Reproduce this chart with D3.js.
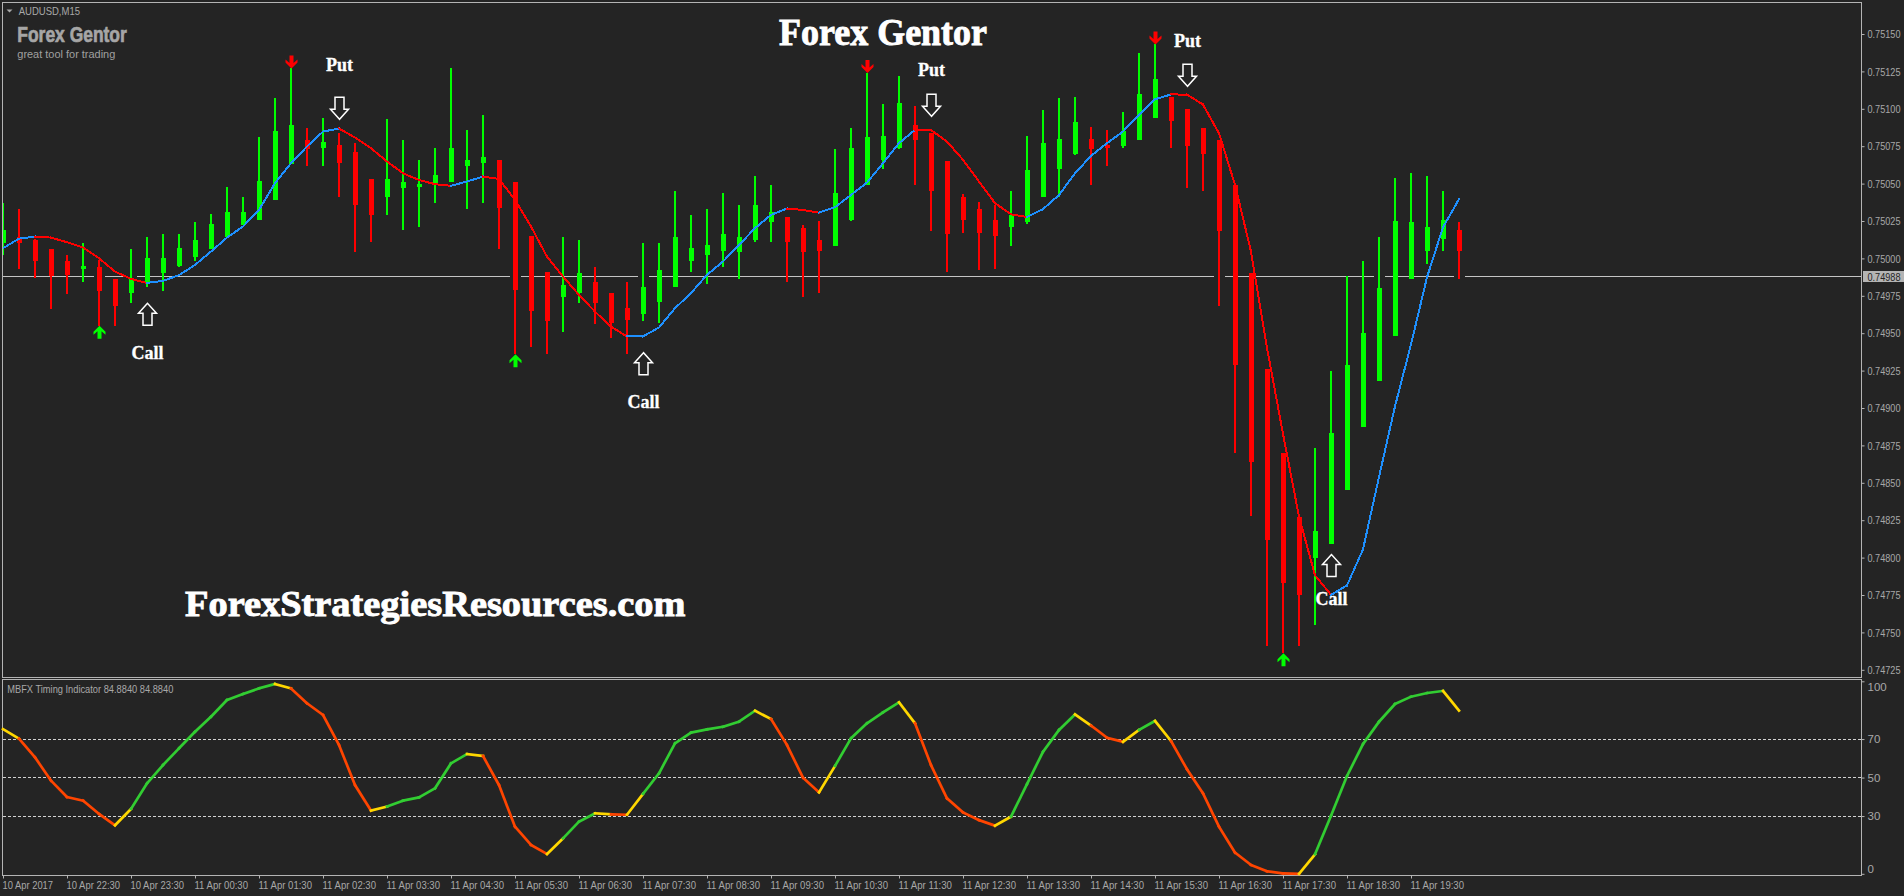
<!DOCTYPE html>
<html>
<head>
<meta charset="utf-8">
<title>Forex Gentor</title>
<script src="https://cdn.jsdelivr.net/npm/d3@7"></script>
<style>
  html, body { margin: 0; padding: 0; background: #242424; overflow: hidden; }
  svg { display: block; }
</style>
</head>
<body>
<div id="chart"></div>
<script>
/* global d3 */

var candleOpen = [
  0.75010, 0.75014, 0.75012, 0.75006, 0.74998, 0.74993, 0.74994, 0.74986, 0.74977, 0.74983,
  0.74990, 0.74995, 0.75001, 0.75006, 0.75014, 0.75022, 0.75026, 0.75039, 0.75063, 0.75079,
  0.75074, 0.75076, 0.75071, 0.75053, 0.75041, 0.75047, 0.75048, 0.75050, 0.75051, 0.75062,
  0.75064, 0.75066, 0.75051, 0.75015, 0.74991, 0.74974, 0.74977, 0.74984, 0.74977, 0.74967,
  0.74963, 0.74971, 0.74981, 0.74998, 0.75002, 0.75005, 0.75004, 0.75012, 0.75024, 0.75028,
  0.75020, 0.75012, 0.75008, 0.75026, 0.75049, 0.75066, 0.75074, 0.75089, 0.75084, 0.75065,
  0.75041, 0.75033, 0.75026, 0.75021, 0.75024, 0.75041, 0.75060, 0.75070, 0.75080, 0.75076,
  0.75075, 0.75079, 0.75094, 0.75108, 0.75100, 0.75087, 0.75079, 0.75049, 0.74990, 0.74926,
  0.74870, 0.74827, 0.74800, 0.74809, 0.74845, 0.74887, 0.74918, 0.74948, 0.74986, 0.75005,
  0.75013, 0.75019
];

var candleHigh = [
  0.75037, 0.75033, 0.75013, 0.75006, 0.75002, 0.75010, 0.74999, 0.74986, 0.75006, 0.75014,
  0.75016, 0.75016, 0.75024, 0.75030, 0.75048, 0.75041, 0.75081, 0.75107, 0.75127, 0.75087,
  0.75094, 0.75084, 0.75077, 0.75053, 0.75093, 0.75079, 0.75066, 0.75074, 0.75127, 0.75086,
  0.75096, 0.75066, 0.75051, 0.75015, 0.74991, 0.75014, 0.75012, 0.74994, 0.74977, 0.74984,
  0.75010, 0.75010, 0.75045, 0.75029, 0.75033, 0.75044, 0.75036, 0.75055, 0.75049, 0.75028,
  0.75022, 0.75025, 0.75073, 0.75087, 0.75124, 0.75103, 0.75122, 0.75102, 0.75084, 0.75065,
  0.75043, 0.75038, 0.75036, 0.75045, 0.75082, 0.75099, 0.75107, 0.75108, 0.75088, 0.75086,
  0.75098, 0.75137, 0.75143, 0.75108, 0.75100, 0.75087, 0.75079, 0.75049, 0.74990, 0.74926,
  0.74870, 0.74827, 0.74873, 0.74925, 0.74988, 0.74998, 0.75014, 0.75054, 0.75057, 0.75055,
  0.75045, 0.75024
];

var candleLow = [
  0.75002, 0.74993, 0.74987, 0.74966, 0.74976, 0.74984, 0.74955, 0.74955, 0.74970, 0.74981,
  0.74978, 0.74994, 0.74998, 0.75006, 0.75014, 0.75022, 0.75026, 0.75039, 0.75063, 0.75062,
  0.75062, 0.75041, 0.75004, 0.75011, 0.75029, 0.75019, 0.75021, 0.75037, 0.75051, 0.75033,
  0.75037, 0.75006, 0.74936, 0.74941, 0.74936, 0.74951, 0.74970, 0.74956, 0.74947, 0.74936,
  0.74958, 0.74957, 0.74981, 0.74991, 0.74983, 0.74994, 0.74986, 0.75011, 0.75011, 0.74984,
  0.74974, 0.74977, 0.75008, 0.75025, 0.75049, 0.75060, 0.75073, 0.75049, 0.75018, 0.74991,
  0.75017, 0.74992, 0.74993, 0.75008, 0.75023, 0.75041, 0.75041, 0.75069, 0.75049, 0.75062,
  0.75074, 0.75079, 0.75094, 0.75074, 0.75047, 0.75045, 0.74968, 0.74870, 0.74828, 0.74741,
  0.74736, 0.74741, 0.74755, 0.74809, 0.74845, 0.74887, 0.74918, 0.74948, 0.74986, 0.74996,
  0.75005, 0.74986
];

var candleClose = [
  0.75019, 0.75010, 0.74998, 0.74988, 0.74989, 0.74995, 0.74978, 0.74968, 0.74986, 0.75000,
  0.75000, 0.75007, 0.75012, 0.75023, 0.75031, 0.75031, 0.75052, 0.75085, 0.75089, 0.75073,
  0.75078, 0.75064, 0.75036, 0.75029, 0.75053, 0.75051, 0.75050, 0.75056, 0.75074, 0.75066,
  0.75068, 0.75034, 0.74979, 0.74965, 0.74958, 0.74982, 0.74990, 0.74970, 0.74957, 0.74959,
  0.74981, 0.74992, 0.75014, 0.75007, 0.75009, 0.75016, 0.75014, 0.75036, 0.75031, 0.75011,
  0.75004, 0.75005, 0.75044, 0.75074, 0.75081, 0.75082, 0.75104, 0.75079, 0.75045, 0.75016,
  0.75026, 0.75017, 0.75015, 0.75029, 0.75059, 0.75077, 0.75080, 0.75091, 0.75073, 0.75074,
  0.75085, 0.75110, 0.75120, 0.75092, 0.75075, 0.75070, 0.75018, 0.74929, 0.74864, 0.74812,
  0.74783, 0.74775, 0.74818, 0.74883, 0.74929, 0.74950, 0.74980, 0.75025, 0.75024, 0.75021,
  0.75026, 0.75005
];

var gentorLine = [
  0.750068, 0.750132, 0.750146, 0.750139, 0.750108, 0.750073, 0.750001, 0.749912, 0.749863, 0.749836,
  0.749850, 0.749888, 0.749956, 0.750046, 0.750139, 0.750213, 0.750324, 0.750503, 0.750636, 0.750748,
  0.750848, 0.750868, 0.750808, 0.750736, 0.750648, 0.750569, 0.750524, 0.750496, 0.750485, 0.750514,
  0.750547, 0.750531, 0.750391, 0.750213, 0.750012, 0.749879, 0.749756, 0.749644, 0.749544, 0.749478,
  0.749479, 0.749538, 0.749667, 0.749768, 0.749890, 0.749979, 0.750090, 0.750202, 0.750291, 0.750333,
  0.750324, 0.750306, 0.750342, 0.750424, 0.750507, 0.750636, 0.750770, 0.750859, 0.750858, 0.750781,
  0.750659, 0.750514, 0.750369, 0.750295, 0.750277, 0.750329, 0.750424, 0.750569, 0.750685, 0.750770,
  0.750848, 0.750960, 0.751064, 0.751096, 0.751095, 0.751028, 0.750836, 0.750492, 0.750046, 0.749402,
  0.748827, 0.748274, 0.747882, 0.747751, 0.747814, 0.748055, 0.748539, 0.749011, 0.749425, 0.749874,
  0.750208, 0.750396
];

var timingValues = [
  75.2, 70.2, 60.5, 48.4, 39.9, 38.0, 31.1, 25.2, 33.7, 47.0,
  56.5, 65.2, 73.8, 81.6, 90.3, 93.4, 96.3, 98.6, 96.3, 88.6,
  82.5, 66.9, 46.1, 32.8, 34.9, 38.0, 39.7, 44.4, 57.4, 62.2,
  61.2, 46.1, 24.5, 15.0, 10.3, 18.4, 27.1, 31.4, 30.9, 30.7,
  41.5, 52.2, 67.8, 73.3, 75.0, 76.4, 79.0, 84.7, 80.4, 66.9,
  49.9, 42.3, 56.0, 70.4, 78.2, 83.9, 89.1, 78.2, 56.5, 39.2,
  31.9, 27.9, 25.0, 29.7, 46.6, 63.4, 74.7, 82.8, 77.0, 70.7,
  68.6, 74.7, 79.4, 69.0, 54.3, 41.8, 24.5, 11.0, 4.6, 1.3,
  0.2, 0.0, 10.1, 30.2, 50.8, 67.4, 79.0, 88.2, 92.0, 93.9,
  95.0, 84.8
];

var priceTicks = [
  0.75150, 0.75125, 0.75100, 0.75075, 0.75050, 0.75025, 0.75000, 0.74975, 0.74950,
  0.74925, 0.74900, 0.74875, 0.74850, 0.74825, 0.74800, 0.74775, 0.74750, 0.74725
];
var lastPrice = 0.74988;

var timingTicks = [ 100, 70, 50, 30, 0 ];
var timingLevels = [ 70, 50, 30 ];

var timeTickCandles = [ 0, 4, 8, 12, 16, 20, 24, 28, 32, 36, 40, 44, 48, 52, 56, 60, 64, 68, 72, 76, 80, 84, 88 ];
var timeTickLabels = [
  "10 Apr 2017", "10 Apr 22:30", "10 Apr 23:30", "11 Apr 00:30", "11 Apr 01:30", "11 Apr 02:30",
  "11 Apr 03:30", "11 Apr 04:30", "11 Apr 05:30", "11 Apr 06:30", "11 Apr 07:30", "11 Apr 08:30",
  "11 Apr 09:30", "11 Apr 10:30", "11 Apr 11:30", "11 Apr 12:30", "11 Apr 13:30", "11 Apr 14:30",
  "11 Apr 15:30", "11 Apr 16:30", "11 Apr 17:30", "11 Apr 18:30", "11 Apr 19:30"
];

// candles where the price line is broken in the screenshot
var lineGapCandles = [ 6, 8, 32, 40, 76, 86, 91 ];

var signalUpCandles = [ 6, 32, 80 ];
var signalDownCandles = [ 18, 54, 72 ];

var putCandles = [ 21, 58, 74 ];
var putArrowPrices = [ 0.75093, 0.75095, 0.75115 ];
var putTextPrices = [ 0.75125, 0.75122, 0.75141 ];

var callCandles = [ 9, 40, 83 ];
var callArrowPrices = [ 0.74970, 0.74937, 0.74802 ];
var callTextPrices = [ 0.74933, 0.74900, 0.74768 ];

var width = 1904,
  height = 896;

var background = "#242424",
  frameColor = "#b4b4b4",
  labelColor = "#a8a8a8",
  axisFont = "'Liberation Sans', Arial, sans-serif",
  axisFontSize = 11.5,
  priceSqueeze = 0.794,
  serifFont = "'Liberation Serif', 'Times New Roman', serif";

var svg = d3.select( "#chart" ).append( "svg" )
  .attr( "width", width )
  .attr( "height", height );

var candles = d3.range( candleOpen.length );

var xScale = d3.scaleLinear()
  .domain( [ 0, 91 ] )
  .range( [ 3, 1459 ] );

var yScale = d3.scaleLinear()
  .domain( [ 0.75150, 0.74725 ] )
  .range( [ 34, 669.8 ] );

var timingScale = d3.scaleLinear()
  .domain( [ 0, 100 ] )
  .range( [ 873.8, 681.3 ] );

function drawWindows() {

  svg.append( "rect" )
    .attr( "width", width )
    .attr( "height", height )
    .attr( "fill", background );

  svg.append( "defs" ).append( "clipPath" )
    .attr( "id", "mainClip" )
    .append( "rect" )
      .attr( "x", 3 )
      .attr( "y", 3 )
      .attr( "width", 1858 )
      .attr( "height", 674 );

  var frames = [ [ 2.5, 677.5 ], [ 679.5, 875.5 ] ];

  svg.selectAll( "rect.frame" )
    .data( frames )
    .enter().append( "rect" )
      .attr( "class", "frame" )
      .attr( "x", 2.5 )
      .attr( "y", d => d[ 0 ] )
      .attr( "width", 1859 )
      .attr( "height", d => d[ 1 ] - d[ 0 ] )
      .attr( "fill", "none" )
      .attr( "stroke", frameColor )
      .attr( "stroke-width", 1 );

}

function drawLastPriceLine( main ) {

  var lineY = Math.floor( yScale( lastPrice ) ) + 0.5;

  main.append( "line" )
    .attr( "x1", 3 )
    .attr( "x2", 1861 )
    .attr( "y1", lineY )
    .attr( "y2", lineY )
    .attr( "stroke", "#c4c4c4" )
    .attr( "stroke-width", 1 );

  main.selectAll( "rect.lineGap" )
    .data( lineGapCandles )
    .enter().append( "rect" )
      .attr( "class", "lineGap" )
      .attr( "x", d => xScale( d ) - 5 )
      .attr( "y", lineY - 1 )
      .attr( "width", 11 )
      .attr( "height", 2 )
      .attr( "fill", background );

  svg.append( "rect" )
    .attr( "x", 1863 )
    .attr( "y", lineY - 5.5 )
    .attr( "width", 41 )
    .attr( "height", 11 )
    .attr( "fill", frameColor );

  svg.append( "text" )
    .attr( "transform", "translate(1867.5," + ( lineY + 4 ) + ") scale(" + priceSqueeze + ",1)" )
    .attr( "fill", "#242424" )
    .attr( "font-family", axisFont )
    .attr( "font-size", axisFontSize )
    .text( d3.format( ".5f" )( lastPrice ) );

}

function candleColor( i ) {

  return candleClose[ i ] >= candleOpen[ i ] ? "#00ff00" : "#ff0000";

}

function drawCandles( main ) {

  main.selectAll( "rect.wick" )
    .data( candles )
    .enter().append( "rect" )
      .attr( "class", "wick" )
      .attr( "x", d => xScale( d ) - 1 )
      .attr( "y", d => Math.round( yScale( candleHigh[ d ] ) ) )
      .attr( "width", 2 )
      .attr( "height", d => Math.round( yScale( candleLow[ d ] ) ) - Math.round( yScale( candleHigh[ d ] ) ) )
      .attr( "fill", candleColor );

  main.selectAll( "rect.body" )
    .data( candles )
    .enter().append( "rect" )
      .attr( "class", "body" )
      .attr( "x", d => xScale( d ) - 2 )
      .attr( "y", d => Math.round( yScale( Math.max( candleOpen[ d ], candleClose[ d ] ) ) ) )
      .attr( "width", 5 )
      .attr( "height", d => Math.max( 3, Math.abs( Math.round( yScale( candleOpen[ d ] ) ) - Math.round( yScale( candleClose[ d ] ) ) ) ) )
      .attr( "fill", candleColor );

}

function drawGentorLine( main ) {

  // one piece per candle: blue while the line rises, red while it falls
  main.selectAll( "line.gentor" )
    .data( candles.slice( 0, -1 ) )
    .enter().append( "line" )
      .attr( "class", "gentor" )
      .attr( "x1", d => xScale( d ) )
      .attr( "x2", d => xScale( d + 1 ) )
      .attr( "y1", d => yScale( gentorLine[ d ] ) )
      .attr( "y2", d => yScale( gentorLine[ d + 1 ] ) )
      .attr( "stroke", d => gentorLine[ d + 1 ] > gentorLine[ d ] ? "#1e90ff" : "#ff0000" )
      .attr( "stroke-width", 2 )
      .attr( "stroke-linecap", "square" )
      .style( "shape-rendering", "crispEdges" );

}

function drawSignals( main ) {

  var downShape = "M0,0L-6,-6L-6,-9L-2,-5.5L-2,-13L2,-13L2,-5.5L6,-9L6,-6Z";
  var upShape = "M0,0L-6,6L-6,9L-2,5.5L-2,13L2,13L2,5.5L6,9L6,6Z";

  main.selectAll( "path.signalDown" )
    .data( signalDownCandles )
    .enter().append( "path" )
      .attr( "class", "signalDown" )
      .attr( "transform", d => "translate(" + ( xScale( d ) + 0.5 ) + "," + yScale( candleHigh[ d ] ) + ")" )
      .attr( "d", downShape )
      .attr( "fill", "#ff0000" );

  main.selectAll( "path.signalUp" )
    .data( signalUpCandles )
    .enter().append( "path" )
      .attr( "class", "signalUp" )
      .attr( "transform", d => "translate(" + ( xScale( d ) + 0.5 ) + "," + yScale( candleLow[ d ] ) + ")" )
      .attr( "d", upShape )
      .attr( "fill", "#00ff00" );

}

function drawOptionMarks() {

  // hollow arrows, the tip sits on the given price
  var putShape = "M0,0L-9,-10L-4.5,-10L-4.5,-22L4.5,-22L4.5,-10L9,-10Z";
  var callShape = "M0,0L-9,10L-4.5,10L-4.5,22L4.5,22L4.5,10L9,10Z";

  function marks( list, prices, shape, cls ) {

    svg.selectAll( "path." + cls )
      .data( list )
      .enter().append( "path" )
        .attr( "class", cls )
        .attr( "transform", ( d, i ) => "translate(" + ( xScale( d ) + 0.5 ) + "," + yScale( prices[ i ] ) + ")" )
        .attr( "d", shape )
        .attr( "fill", background )
        .attr( "stroke", "#ffffff" )
        .attr( "stroke-width", 1.5 );

  }

  function words( list, prices, word, cls ) {

    svg.selectAll( "text." + cls )
      .data( list )
      .enter().append( "text" )
        .attr( "class", cls )
        .attr( "x", d => xScale( d ) + 0.5 )
        .attr( "y", ( d, i ) => yScale( prices[ i ] ) )
        .attr( "text-anchor", "middle" )
        .attr( "fill", "#ffffff" )
        .attr( "stroke", "#ffffff" )
        .attr( "stroke-width", 0.3 )
        .attr( "font-family", serifFont )
        .attr( "font-weight", "bold" )
        .attr( "font-size", 18 )
        .text( word );

  }

  marks( putCandles, putArrowPrices, putShape, "putArrow" );
  marks( callCandles, callArrowPrices, callShape, "callArrow" );
  words( putCandles, putTextPrices, "Put", "putText" );
  words( callCandles, callTextPrices, "Call", "callText" );

}

function drawTiming() {

  svg.selectAll( "line.level" )
    .data( timingLevels )
    .enter().append( "line" )
      .attr( "class", "level" )
      .attr( "x1", 3 )
      .attr( "x2", 1861 )
      .attr( "y1", d => Math.floor( timingScale( d ) ) + 0.5 )
      .attr( "y2", d => Math.floor( timingScale( d ) ) + 0.5 )
      .attr( "stroke", "#d2d2d2" )
      .attr( "stroke-width", 1 )
      .attr( "stroke-dasharray", "3,2" );

  // green up, orange down, gold on the first piece after a turn
  function slope( i ) {
    return timingValues[ i + 1 ] > timingValues[ i ] ? 1 : -1;
  }

  svg.selectAll( "line.timing" )
    .data( candles.slice( 0, -1 ) )
    .enter().append( "line" )
      .attr( "class", "timing" )
      .attr( "x1", d => xScale( d ) )
      .attr( "x2", d => xScale( d + 1 ) )
      .attr( "y1", d => timingScale( timingValues[ d ] ) )
      .attr( "y2", d => timingScale( timingValues[ d + 1 ] ) )
      .attr( "stroke", d => {
        if( d === 0 || slope( d ) !== slope( d - 1 ) ) return "#ffd700";
        return slope( d ) > 0 ? "#32cd32" : "#ff4500";
      } )
      .attr( "stroke-width", 2.7 )
      .attr( "stroke-linecap", "square" );

}

function styleAxis( g ) {

  g.attr( "font-family", axisFont )
    .attr( "font-size", axisFontSize );

  g.select( ".domain" ).remove();
  g.selectAll( "line" ).attr( "stroke", frameColor );
  g.selectAll( "text" ).attr( "fill", labelColor );

}

function drawAxes() {

  var priceAxis = d3.axisRight( yScale )
    .tickValues( priceTicks )
    .tickFormat( d3.format( ".5f" ) )
    .tickSize( 3 )
    .tickPadding( 3 );

  svg.append( "g" )
    .attr( "class", "price axis" )
    .attr( "transform", "translate(1861.5,0)" )
    .call( priceAxis )
    .call( styleAxis )
    .call( g => g.selectAll( "text" )
      .attr( "x", 6 / priceSqueeze )
      .attr( "transform", "scale(" + priceSqueeze + ",1)" ) );

  var timingAxis = d3.axisRight( timingScale )
    .tickValues( timingTicks )
    .tickSize( 3 )
    .tickPadding( 3 );

  svg.append( "g" )
    .attr( "class", "timing axis" )
    .attr( "transform", "translate(1861.5,0)" )
    .call( timingAxis )
    .call( styleAxis )
    // the outer labels are pushed inside the window
    .call( g => g.selectAll( "text" )
      .attr( "y", d => d === 100 ? 5.5 : d === 0 ? -4.5 : 0 ) );

  var timeAxis = d3.axisBottom( xScale )
    .tickValues( timeTickCandles )
    .tickFormat( ( d, i ) => timeTickLabels[ i ] )
    .tickSize( 3 )
    .tickPadding( 2 );

  svg.append( "g" )
    .attr( "class", "time axis" )
    .attr( "transform", "translate(0,875.5)" )
    .call( timeAxis )
    .call( styleAxis )
    .call( g => g.selectAll( "text" )
      .attr( "text-anchor", "start" )
      .attr( "x", -1 )
      .attr( "textLength", ( d, i ) => i === 0 ? 50.5 : 53.5 )
      .attr( "lengthAdjust", "spacingAndGlyphs" ) );

}

function drawTexts() {

  svg.append( "path" )
    .attr( "d", "M6.5,9.5L12.5,9.5L9.5,12.5Z" )
    .attr( "fill", "#a8a8a8" );

  var labels = [
    { text: "AUDUSD,M15", x: 18.7, y: 14.5, len: 61.3, size: axisFontSize, fill: "#a8a8a8" },
    { text: "great tool for trading", x: 17.3, y: 58, len: 98, size: 11.5, fill: "#a0a0a0" },
    { text: "MBFX Timing Indicator 84.8840 84.8840", x: 7.3, y: 692.5, len: 166, size: axisFontSize, fill: labelColor }
  ];

  svg.selectAll( "text.plain" )
    .data( labels )
    .enter().append( "text" )
      .attr( "class", "plain" )
      .attr( "x", d => d.x )
      .attr( "y", d => d.y )
      .attr( "fill", d => d.fill )
      .attr( "font-family", axisFont )
      .attr( "font-size", d => d.size )
      .attr( "textLength", d => d.len )
      .attr( "lengthAdjust", "spacingAndGlyphs" )
      .text( d => d.text );

  svg.append( "text" )
    .attr( "x", 17.3 )
    .attr( "y", 42 )
    .attr( "fill", "#a6a6a6" )
    .attr( "stroke", "#a6a6a6" )
    .attr( "stroke-width", 0.7 )
    .attr( "font-family", "'Liberation Sans Narrow', " + axisFont )
    .attr( "font-weight", "bold" )
    .attr( "font-size", 22 )
    .attr( "textLength", 109.5 )
    .attr( "lengthAdjust", "spacingAndGlyphs" )
    .text( "Forex Gentor" );

  svg.append( "text" )
    .attr( "x", 779 )
    .attr( "y", 45 )
    .attr( "fill", "#ffffff" )
    .attr( "stroke", "#ffffff" )
    .attr( "stroke-width", 0.9 )
    .attr( "font-family", serifFont )
    .attr( "font-weight", "bold" )
    .attr( "font-size", 37 )
    .attr( "textLength", 208 )
    .attr( "lengthAdjust", "spacingAndGlyphs" )
    .text( "Forex Gentor" );

  svg.append( "text" )
    .attr( "x", 185 )
    .attr( "y", 615.7 )
    .attr( "fill", "#ffffff" )
    .attr( "stroke", "#ffffff" )
    .attr( "stroke-width", 0.9 )
    .attr( "font-family", serifFont )
    .attr( "font-weight", "bold" )
    .attr( "font-size", 36 )
    .attr( "textLength", 500.5 )
    .attr( "lengthAdjust", "spacingAndGlyphs" )
    .text( "ForexStrategiesResources.com" );

}

function drawChart() {

  drawWindows();

  var main = svg.append( "g" )
    .attr( "clip-path", "url(#mainClip)" );

  drawLastPriceLine( main );
  drawCandles( main );
  drawSignals( main );
  drawGentorLine( main );
  drawOptionMarks();
  drawTiming();
  drawAxes();
  drawTexts();

}

drawChart();
</script>
</body>
</html>
